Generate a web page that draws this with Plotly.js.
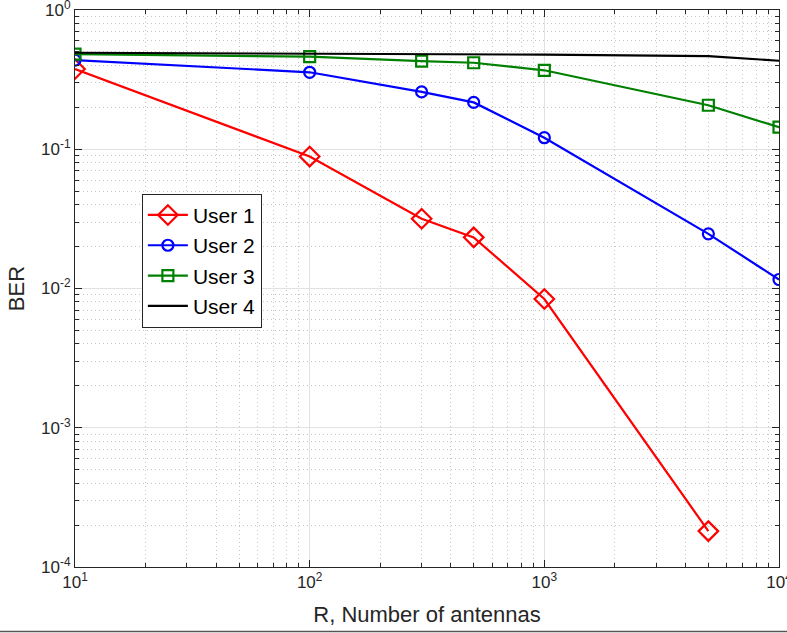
<!DOCTYPE html>
<html>
<head>
<meta charset="utf-8">
<script src="https://cdn.plot.ly/plotly-3.0.1.min.js"></script>
<style>html,body{margin:0;padding:0;background:#fff;}#chart{width:787px;height:633px;}</style>
</head>
<body>
<div id="chart"></div>
<script>
// Data
const antennas = [10, 100, 300, 500, 1000, 5000, 10000];
const user1 = [0.377, 0.0886, 0.0317, 0.0233, 0.0084, 0.000181];
const user2 = [0.437, 0.357, 0.258, 0.217, 0.121, 0.0247, 0.0116];
const user3 = [0.482, 0.462, 0.430, 0.418, 0.369, 0.207, 0.144];
const user4 = [0.493, 0.488, 0.483, 0.481, 0.478, 0.467, 0.432];
const seriesNames = ["User 1", "User 2", "User 3", "User 4"];
const xTickVals = [10, 100, 1000, 10000];
const xTickText = ["10<sup>1</sup>", "10<sup>2</sup>", "10<sup>3</sup>", "10<sup>4</sup>"];
const yTickVals = [1e-4, 1e-3, 1e-2, 1e-1, 1];
const yTickText = ["10<sup>-4</sup>", "10<sup>-3</sup>", "10<sup>-2</sup>", "10<sup>-1</sup>", "10<sup>0</sup>"];
const xTitle = "R, Number of antennas";
const yTitle = "BER";

function minorVals(lo, hi) {
  const v = [];
  for (let e = lo; e < hi; e++) for (let m = 2; m <= 9; m++) v.push(m * Math.pow(10, e));
  return v;
}

const axisColor = "#262626";
const tickFont = {family: "Liberation Sans, Arial, sans-serif", size: 17, color: axisColor};
const titleFont = {family: "Liberation Sans, Arial, sans-serif", size: 22, color: axisColor};

const traces = [
  {x: antennas.slice(0, user1.length), y: user1, name: seriesNames[0], mode: "lines+markers",
   line: {color: "#ff0000", width: 2.2},
   marker: {symbol: "diamond-open", size: 15, color: "#ff0000", line: {width: 2.2, color: "#ff0000"}}},
  {x: antennas, y: user2, name: seriesNames[1], mode: "lines+markers",
   line: {color: "#0000ff", width: 2.2},
   marker: {symbol: "circle-open", size: 11, color: "#0000ff", line: {width: 2.2, color: "#0000ff"}}},
  {x: antennas, y: user3, name: seriesNames[2], mode: "lines+markers",
   line: {color: "#008000", width: 2.2},
   marker: {symbol: "square-open", size: 11, color: "#008000", line: {width: 2.2, color: "#008000"}}},
  {x: antennas, y: user4, name: seriesNames[3], mode: "lines",
   line: {color: "#000000", width: 2.2}}
];

const layout = {
  width: 787, height: 633,
  margin: {l: 75, r: 8, t: 10, b: 66, pad: 0},
  paper_bgcolor: "#ffffff", plot_bgcolor: "#ffffff",
  showlegend: true,
  legend: {
    x: 0.095, y: 0.670, xanchor: "left", yanchor: "top",
    bgcolor: "#ffffff", bordercolor: "#262626", borderwidth: 1,
    font: {family: "Liberation Sans, Arial, sans-serif", size: 21, color: "#000"},
    tracegroupgap: 0, itemwidth: 40
  },
  xaxis: {
    type: "log", range: [1, 4], autorange: false,
    tickvals: xTickVals, ticktext: xTickText, tickfont: tickFont,
    ticklabeloverflow: "allow",
    ticks: "inside", ticklen: 7, tickcolor: axisColor, tickwidth: 1,
    showline: true, linecolor: axisColor, linewidth: 1, mirror: "ticks",
    showgrid: true, gridcolor: "#e2e2e2", gridwidth: 1,
    zeroline: false,
    minor: {tickvals: minorVals(1, 4), ticks: "inside", ticklen: 4, tickcolor: axisColor,
            showgrid: true, gridcolor: "#c4c4c4", griddash: "1px,3px", gridwidth: 1},
    title: {text: xTitle, font: titleFont, standoff: 15}
  },
  yaxis: {
    type: "log", range: [-4, 0], autorange: false,
    tickvals: yTickVals, ticktext: yTickText, tickfont: tickFont,
    ticklabeloverflow: "allow",
    ticks: "inside", ticklen: 7, tickcolor: axisColor, tickwidth: 1,
    showline: true, linecolor: axisColor, linewidth: 1, mirror: "ticks",
    showgrid: true, gridcolor: "#e2e2e2", gridwidth: 1,
    zeroline: false,
    minor: {tickvals: minorVals(-4, 0), ticks: "inside", ticklen: 4, tickcolor: axisColor,
            showgrid: true, gridcolor: "#c4c4c4", griddash: "1px,3px", gridwidth: 1},
    title: {text: yTitle, font: titleFont, standoff: 10}
  },
  shapes: [
    {type: "line", xref: "paper", yref: "paper",
     x0: -75 / 704, x1: 712 / 704, y0: -64.5 / 557, y1: -64.5 / 557,
     line: {color: "#555555", width: 1.5}}
  ]
};

Plotly.newPlot("chart", traces, layout, {displayModeBar: false, staticPlot: true});
</script>
</body>
</html>
